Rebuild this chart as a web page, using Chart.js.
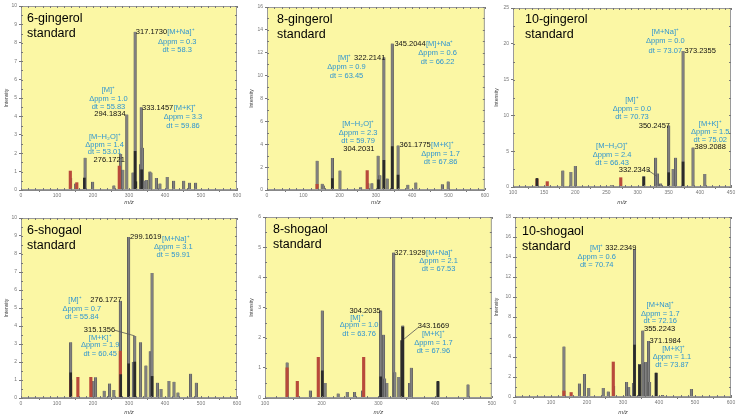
<!DOCTYPE html>
<html><head><meta charset="utf-8">
<script src="https://cdn.jsdelivr.net/npm/chart.js@4/dist/chart.umd.min.js"></script>
<style>
html,body{margin:0;padding:0;background:#fff;width:740px;height:417px;overflow:hidden}
canvas{position:absolute}
</style>
</head><body>
<canvas id="p1"></canvas><canvas id="p2"></canvas><canvas id="p3"></canvas>
<canvas id="p4"></canvas><canvas id="p5"></canvas><canvas id="p6"></canvas>
<script>
// ---------- DATA ----------
const titles = [["6-gingerol","standard"],["8-gingerol","standard"],["10-gingerol","standard"],
                ["6-shogaol","standard"],["8-shogaol","standard"],["10-shogaol","standard"]];

// axis ranges [min, max, step]
const g6X=[0,600,100], g6Y=[0,10,1];
const g8X=[0,600,100], g8Y=[0,16,2];
const g10X=[100,450,50], g10Y=[0,25,5];
const s6X=[0,600,100], s6Y=[0,10,1];
const s8X=[100,500,100], s8Y=[0,6,1];
const s10X=[0,600,100], s10Y=[0,18,2];

// peaks [m/z, intensity]
const g6Gray=[[138,0.65],[152,0.35],[178,1.75],[199,0.45],[258,0.25],[277,1.95],[283,1.1],[294,4.1],[311,0.95],[317,8.6],[332,1.4],[334,4.5],[337,2.3],[343,0.5],[348,0.55],[358,1.0],[361,0.95],[376,0.65],[386,0.35],[406,0.7],[424,0.5],[452,0.5],[468,0.4],[485,0.4]];
const g6Dark=[[176,0.65],[317,2.1],[319,0.45],[335,1.1]];
const g6Red=[[137,1.03],[155,0.4],[273,1.3]];

const g8Gray=[[138,2.55],[152,0.55],[155,0.4],[180,2.8],[201,1.7],[258,0.25],[278,0.6],[289,0.6],[306,3.0],[311,1.3],[322,11.6],[331,1.0],[345,12.8],[361,3.9],[388,0.45],[410,0.65],[483,0.5],[499,0.75]];
const g8Dark=[[180,1.0],[307,0.9],[322,2.6],[345,3.8],[361,1.3]];
const g8Red=[[138,0.5],[276,1.7]];

const g10Gray=[[180,2.3],[193,2.1],[200,2.95],[258,0.25],[310,1.5],[329,4.1],[332,1.9],[337,0.5],[350,8.6],[357,2.5],[361,4.1],[373,19.0],[389,5.5],[408,1.8]];
const g10Dark=[[138.5,1.2],[310,1.4],[350,2.0],[373,3.5]];
const g10Red=[[138.5,1.1],[155,0.75],[273,1.3]];

const s6Gray=[[138,3.1],[201,0.95],[207,1.15],[231,0.4],[246,0.8],[258,0.45],[276,5.4],[299,8.95],[312,2.0],[316,3.45],[332,3.1],[347,1.8],[359,2.6],[364,6.95],[379,0.85],[389,0.5],[411,0.95],[425,0.9],[436,0.3],[471,1.35],[487,0.85]];
const s6Dark=[[138,1.4],[277,1.3],[299,1.9],[316,2.0],[364,1.2]];
const s6Red=[[138,1.0],[158,1.15],[194,1.15],[276,2.6]];

const s8Gray=[[139,1.18],[180,0.25],[201,2.9],[206,0.5],[229,0.15],[245,0.2],[258,0.2],[272,0.25],[304,2.9],[309,2.1],[311,0.65],[315,0.5],[327,4.82],[329,0.85],[336,0.7],[343,2.4],[355,0.5],[358,1.0],[405,0.55],[458,0.45]];
const s8Dark=[[201,0.9],[304,0.7],[341,1.9],[343,2.35],[405,0.55]];
const s8Red=[[139,1.0],[157,0.55],[194,1.35],[274,1.35]];

const s10Gray=[[136,5.05],[179,1.35],[193,2.3],[205,0.9],[245,0.9],[259,0.55],[274,1.1],[310,1.5],[316,1.0],[329,1.4],[332,14.8],[346,3.3],[355,6.65],[359,3.4],[363,3.5],[371,5.6],[374,1.5],[392,2.4],[410,0.2],[490,0.8]];
const s10Dark=[[332,5.2],[346,3.2],[392,2.4]];
const s10Red=[[136,0.6],[156,0.45],[273,3.5]];

// annotations [m/z, intensity, text, colour(b/k), align]
const g6Notes=[[319,8.57,"317.1730","k","left"],[406,8.57,"[M+Na]⁺","b","left"],[434,8.04,"Δppm = 0.3","b","center"],[434,7.61,"dt = 58.3","b","center"],
 [243,5.43,"[M]⁺","b","center"],[243,4.95,"Δppm = 1.0","b","center"],[243,4.49,"dt = 55.83","b","center"],[247,4.11,"294.1834","k","center"],
 [336,4.44,"333.1457","k","left"],[424,4.44,"[M+K]⁺","b","left"],[450,3.95,"Δppm = 3.3","b","center"],[450,3.48,"dt = 59.86","b","center"],
 [233,2.88,"[M−H₂O]⁺","b","center"],[232,2.45,"Δppm = 1.4","b","center"],[232,2.07,"dt = 53.01","b","center"],[245,1.63,"276.1721","k","center"]];
const g8Notes=[[351,12.8,"345.2044","k","left"],[438,12.8,"[M]+Na⁺","b","left"],[470,11.98,"Δppm = 0.6","b","center"],[470,11.19,"dt = 66.22","b","center"],
 [214,11.57,"[M]⁺","b","center"],[283,11.57,"322.2141","k","center"],[219,10.76,"Δppm = 0.9","b","center"],[219,10.0,"dt = 63.45","b","center"],
 [251,5.76,"[M−H₂O]⁺","b","center"],[251,5.0,"Δppm = 2.3","b","center"],[251,4.27,"dt = 59.79","b","center"],[253,3.55,"304.2031","k","center"],
 [365,3.9,"361.1775","k","left"],[452,3.9,"[M+K]⁺","b","left"],[478,3.14,"Δppm = 1.7","b","center"],[478,2.41,"dt = 67.86","b","center"]];
const g10Notes=[[344.5,21.6,"[M+Na]⁺","b","center"],[344.5,20.35,"Δppm = 0.0","b","center"],[344.5,19.05,"dt = 73.07","b","center"],[375.5,19.05,"373.2355","k","left"],
 [291,12.17,"[M]⁺","b","center"],[291,10.92,"Δppm = 0.0","b","center"],[291,9.76,"dt = 70.73","b","center"],[327,8.5,"350.2457","k","center"],
 [416.7,8.83,"[M+K]⁺","b","center"],[416.7,7.67,"Δppm = 1.5","b","center"],[416.7,6.6,"dt = 75.02","b","center"],[416.7,5.58,"389.2088","k","center"],
 [259,5.72,"[M−H₂O]⁺","b","center"],[259,4.5,"Δppm = 2.4","b","center"],[259,3.35,"dt = 66.43","b","center"],[295,2.42,"332.2343","k","center"]];
const s6Notes=[[303,8.94,"299.1619","k","left"],[392,8.85,"[M+Na]⁺","b","left"],[423,8.39,"Δppm = 3.1","b","center"],[423,7.93,"dt = 59.91","b","center"],
 [150,5.43,"[M]⁺","b","center"],[236,5.43,"276.1727","k","center"],[169,4.96,"Δppm = 0.7","b","center"],[169,4.5,"dt = 55.84","b","center"],
 [218,3.76,"315.1356","k","center"],[220,3.35,"[M+K]⁺","b","center"],[220,2.93,"Δppm = 1.9","b","center"],[220,2.46,"dt = 60.45","b","center"]];
const s8Notes=[[328,4.82,"327.1929","k","left"],[384,4.82,"[M+Na]⁺","b","left"],[406,4.56,"Δppm = 2.1","b","center"],[406,4.29,"dt = 67.53","b","center"],
 [276.5,2.9,"304.2035","k","center"],[262,2.66,"[M]⁺","b","center"],[266,2.41,"Δppm = 1.0","b","center"],[266,2.13,"dt = 63.76","b","center"],
 [397,2.38,"343.1669","k","center"],[397,2.11,"[M+K]⁺","b","center"],[397,1.83,"Δppm = 1.7","b","center"],[397,1.56,"dt = 67.96","b","center"]];
const s10Notes=[[227,14.9,"[M]⁺","b","center"],[250.5,14.9,"332.2349","k","left"],[227,13.96,"Δppm = 0.6","b","center"],[227,13.16,"dt = 70.74","b","center"],
 [403.5,9.19,"[M+Na]⁺","b","center"],[403.5,8.34,"Δppm = 1.7","b","center"],[403.5,7.57,"dt = 72.16","b","center"],[401.7,6.8,"355.2243","k","center"],
 [417.4,5.59,"371.1984","k","center"],[440.6,4.81,"[M+K]⁺","b","center"],[436,3.97,"Δppm = 1.1","b","center"],[436,3.2,"dt = 73.87","b","center"]];

// leader lines [x1,y1,x2,y2] in data units
const g6Leads=[], g8Leads=[];
const g10Leads=[[314,2.5,331,1.5]];
const s6Leads=[[261,3.76,316,3.45]];
const s8Leads=[[371,2.35,345,1.95]];
const s10Leads=[];

// ---------- LAYOUT (styling only) ----------
const layout=[
 {id:"p1",left:0,top:0,w:245,h:207,yw:21,pt:6,pr:8,xh:17,tx:6,ty:13},
 {id:"p2",left:245,top:0,w:245,h:207,yw:22,pt:7,pr:4,xh:17,tx:10,ty:13},
 {id:"p3",left:490,top:0,w:250,h:207,yw:23,pt:8,pr:9,xh:20,tx:12,ty:12},
 {id:"p4",left:0,top:207,w:245,h:210,yw:21,pt:11,pr:8,xh:19,tx:6,ty:13},
 {id:"p5",left:245,top:207,w:252,h:210,yw:20,pt:10,pr:5,xh:19,tx:8,ty:13},
 {id:"p6",left:490,top:207,w:250,h:210,yw:25,pt:10,pr:9,xh:20,tx:7,ty:15}
];
const series=[
 {x:g6X,y:g6Y,gray:g6Gray,dark:g6Dark,red:g6Red,notes:g6Notes,leads:g6Leads},
 {x:g8X,y:g8Y,gray:g8Gray,dark:g8Dark,red:g8Red,notes:g8Notes,leads:g8Leads},
 {x:g10X,y:g10Y,gray:g10Gray,dark:g10Dark,red:g10Red,notes:g10Notes,leads:g10Leads},
 {x:s6X,y:s6Y,gray:s6Gray,dark:s6Dark,red:s6Red,notes:s6Notes,leads:s6Leads},
 {x:s8X,y:s8Y,gray:s8Gray,dark:s8Dark,red:s8Red,notes:s8Notes,leads:s8Leads},
 {x:s10X,y:s10Y,gray:s10Gray,dark:s10Dark,red:s10Red,notes:s10Notes,leads:s10Leads}
];

const FONT='"Liberation Sans", Arial, sans-serif';
const BLUE='#2f95d0';
const toPts=a=>a.map(p=>({x:p[0],y:p[1]}));

const decor={
 id:'decor',
 beforeDraw(chart,args,o){
   const {ctx,chartArea:a}=chart;
   ctx.save();
   ctx.fillStyle='#fbf7a4';
   ctx.fillRect(a.left,a.top,a.right-a.left,a.bottom-a.top);
   ctx.restore();
 },
 afterDraw(chart,args,o){
   const {ctx,chartArea:a,scales}=chart;
   const xs=scales.x, ys=scales.y;
   ctx.save();
   ctx.strokeStyle='#9a9a9a'; ctx.lineWidth=1;
   ctx.strokeRect(a.left+0.5,a.top+0.5,a.right-a.left-1,a.bottom-a.top-1);
   ctx.strokeStyle='#777';
   const sx=o.s.x, sy=o.s.y;
   ctx.beginPath();
   for(let v=sx[0]; v<=sx[1]+1e-9; v+=sx[2]/5){const px=Math.round(xs.getPixelForValue(v))+0.5;ctx.moveTo(px,a.bottom);ctx.lineTo(px,a.bottom-2);ctx.moveTo(px,a.top);ctx.lineTo(px,a.top+2);}
   for(let v=sy[0]; v<=sy[1]+1e-9; v+=sy[2]/2){const py=Math.round(ys.getPixelForValue(v))+0.5;ctx.moveTo(a.left,py);ctx.lineTo(a.left+2,py);ctx.moveTo(a.right,py);ctx.lineTo(a.right-2,py);}
   ctx.stroke();
   ctx.strokeStyle='#555'; ctx.lineWidth=0.8;
   o.s.leads.forEach(l=>{ctx.beginPath();ctx.moveTo(xs.getPixelForValue(l[0]),ys.getPixelForValue(l[1]));ctx.lineTo(xs.getPixelForValue(l[2]),ys.getPixelForValue(l[3]));ctx.stroke();});
   ctx.font='7.5px '+FONT; ctx.textBaseline='middle';
   o.s.notes.forEach(n=>{ctx.fillStyle=n[3]==='b'?BLUE:'#111';ctx.textAlign=n[4];ctx.fillText(n[2],xs.getPixelForValue(n[0]),ys.getPixelForValue(n[1]));});
   ctx.fillStyle='#000'; ctx.font='12.5px '+FONT; ctx.textAlign='left';
   ctx.fillText(o.t[0],a.left+o.L.tx,a.top+o.L.ty);
   ctx.fillText(o.t[1],a.left+o.L.tx,a.top+o.L.ty+15);
   ctx.restore();
 }
};

layout.forEach((L,i)=>{
 const S=series[i];
 const cv=document.getElementById(L.id);
 cv.width=L.w; cv.height=L.h;
 cv.style.left=L.left+'px'; cv.style.top=L.top+'px';
 cv.style.width=L.w+'px'; cv.style.height=L.h+'px';
 new Chart(cv,{
  type:'bar',
  data:{datasets:[
   {data:toPts(S.dark),backgroundColor:'#2b2b2b',barThickness:2,grouped:false},
   {data:toPts(S.red),backgroundColor:'#b84a3b',barThickness:2.5,grouped:false},
   {data:toPts(S.gray),backgroundColor:'#808080',borderColor:'#4a4a4a',borderWidth:{left:0.6,right:0.6,top:0,bottom:0},barThickness:2.6,grouped:false}
  ]},
  options:{
   responsive:false, animation:false, devicePixelRatio:1,
   layout:{padding:{top:L.pt,right:L.pr,left:0,bottom:0}},
   plugins:{legend:{display:false},tooltip:{enabled:false},decor:{s:S,t:titles[i],L:L}},
   scales:{
    x:{type:'linear',min:S.x[0],max:S.x[1],offset:false,
       afterFit(sc){sc.height=L.xh;},
       ticks:{stepSize:S.x[2],autoSkip:false,maxRotation:0,padding:1,color:'#777',font:{size:5,family:FONT}},
       grid:{drawOnChartArea:false,drawTicks:true,tickLength:2,color:'#777'},
       border:{display:true,color:'#888'},
       title:{display:true,text:'m/z',color:'#444',padding:{top:0,bottom:1},font:{size:6,style:'italic',family:FONT}}},
    y:{min:S.y[0],max:S.y[1],
       afterFit(sc){sc.width=L.yw;},
       ticks:{stepSize:S.y[2],autoSkip:false,padding:2,color:'#777',font:{size:5,family:FONT}},
       grid:{drawOnChartArea:false,drawTicks:true,tickLength:2,color:'#777'},
       border:{display:true,color:'#888'},
       title:{display:true,text:'Intensity',color:'#444',padding:{top:4,bottom:0},font:{size:5,family:FONT}}}
   }
  },
  plugins:[decor]
 });
});
</script>
</body></html>
